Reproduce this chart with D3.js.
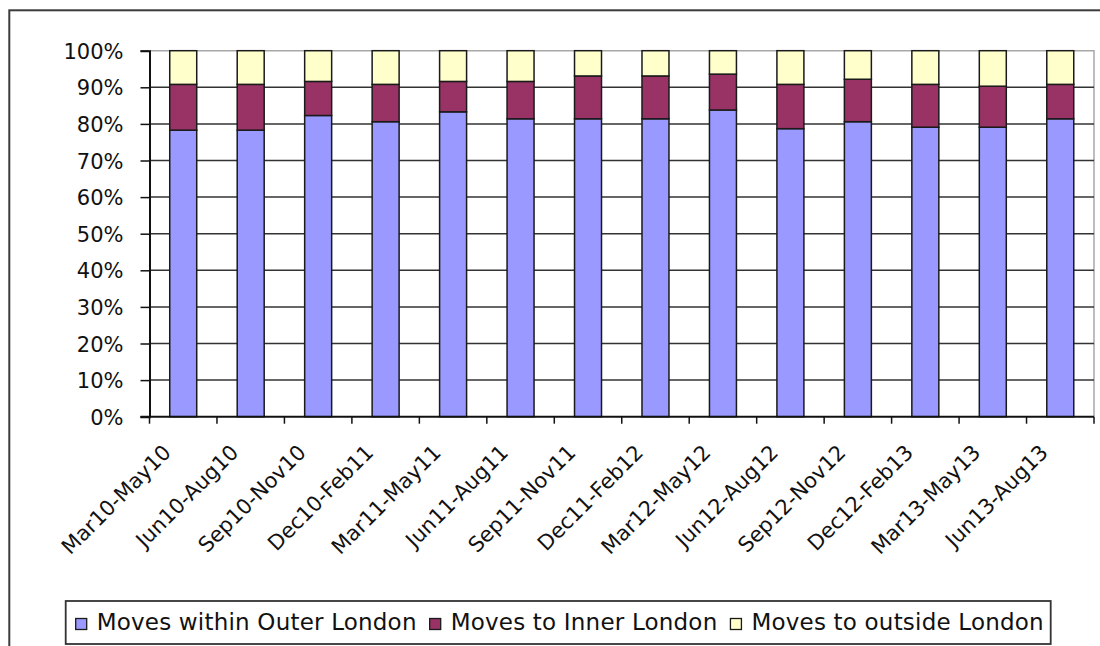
<!DOCTYPE html>
<html>
<head>
<meta charset="utf-8">
<script src="https://cdn.jsdelivr.net/npm/d3@7"></script>
<style>
  html, body { margin: 0; padding: 0; background: #fff; }
  svg { display: block; }
  text { font-family: "DejaVu Sans", Verdana, sans-serif; fill: #111; }
</style>
</head>
<body>
<svg id="chart" width="1100" height="646"></svg>
<script>
// Quarterly share of moves from Outer London, by destination (%)
const categories = [
  "Mar10-May10", "Jun10-Aug10", "Sep10-Nov10", "Dec10-Feb11",
  "Mar11-May11", "Jun11-Aug11", "Sep11-Nov11", "Dec11-Feb12",
  "Mar12-May12", "Jun12-Aug12", "Sep12-Nov12", "Dec12-Feb13",
  "Mar13-May13", "Jun13-Aug13"
];
const withinOuter   = [78.3, 78.3, 82.3, 80.6, 83.3, 81.4, 81.4, 81.4, 83.8, 78.7, 80.6, 79.1, 79.1, 81.4];
const toInner       = [12.5, 12.5,  9.3, 10.2,  8.3, 10.2, 11.7, 11.7,  9.8, 12.1, 11.6, 11.7, 11.2,  9.4];
const toOutside     = [ 9.2,  9.2,  8.4,  9.2,  8.4,  8.4,  6.9,  6.9,  6.4,  9.2,  7.8,  9.2,  9.7,  9.2];
const seriesNames   = ["Moves within Outer London", "Moves to Inner London", "Moves to outside London"];
const seriesColors  = ["#9999FF", "#993366", "#FFFFCC"];
const yTickValues   = [0, 10, 20, 30, 40, 50, 60, 70, 80, 90, 100];

const svg = d3.select("#chart");

// Chart frame
svg.append("rect")
  .attr("x", 9.3).attr("y", 10.3)
  .attr("width", 1200).attr("height", 700)
  .attr("fill", "#fff").attr("stroke", "#3c3c3c").attr("stroke-width", 2);

const plot = { left: 149.5, right: 1094, top: 50.7, bottom: 416.7 };

const x = d3.scaleBand()
  .domain(categories)
  .range([plot.left, plot.right])
  .paddingInner(0.6)
  .paddingOuter(0.3);

const y = d3.scaleLinear()
  .domain([0, 100])
  .range([plot.bottom, plot.top]);

// Plot area border (top / right)
svg.append("path")
  .attr("d", `M${plot.left},${plot.top}H${plot.right}V${plot.bottom}`)
  .attr("fill", "none").attr("stroke", "#a8a8a8").attr("stroke-width", 1.5);

// Horizontal gridlines
svg.append("g")
  .selectAll("line")
  .data(yTickValues.filter(v => v > 0 && v < 100))
  .join("line")
  .attr("x1", plot.left).attr("x2", plot.right)
  .attr("y1", d => y(d)).attr("y2", d => y(d))
  .attr("stroke", "#333").attr("stroke-width", 1.5);

// Stacked bars
const rows = categories.map((c, i) => ({
  cat: c, v0: withinOuter[i], v1: toInner[i], v2: toOutside[i]
}));
const stack = d3.stack().keys(["v0", "v1", "v2"]);
const layers = stack(rows);

svg.append("g")
  .selectAll("g")
  .data(layers)
  .join("g")
  .attr("fill", (d, i) => seriesColors[i])
  .selectAll("rect")
  .data(d => d)
  .join("rect")
  .attr("x", d => x(d.data.cat))
  .attr("width", x.bandwidth())
  .attr("y", d => y(d[1]))
  .attr("height", d => y(d[0]) - y(d[1]))
  .attr("stroke", "#1a1a1a").attr("stroke-width", 1.5);

// Y axis
const yAxis = d3.axisLeft(y)
  .tickValues(yTickValues)
  .tickFormat(d => d + "%")
  .tickSize(9)
  .tickPadding(17);
const gy = svg.append("g")
  .attr("transform", `translate(${plot.left},0)`)
  .call(yAxis);
gy.select(".domain").attr("stroke", "#111").attr("stroke-width", 2);
gy.selectAll(".tick line").attr("stroke", "#111").attr("stroke-width", 1.5);
gy.selectAll(".tick text")
  .attr("font-family", "DejaVu Sans, Verdana, sans-serif")
  .attr("font-size", 21)
  .attr("fill", "#111")
  .attr("dy", "0.36em");

// X axis: ticks at category boundaries
const boundaries = d3.range(categories.length + 1).map(i => plot.left + i * x.step());
const gx = svg.append("g");
gx.append("line")
  .attr("x1", plot.left - 9).attr("x2", plot.right)
  .attr("y1", plot.bottom).attr("y2", plot.bottom)
  .attr("stroke", "#111").attr("stroke-width", 2);
gx.selectAll("line.tk")
  .data(boundaries)
  .join("line")
  .attr("class", "tk")
  .attr("x1", d => d).attr("x2", d => d)
  .attr("y1", plot.bottom).attr("y2", plot.bottom + 7)
  .attr("stroke", "#111").attr("stroke-width", 1.5);

// Rotated category labels
gx.selectAll("text")
  .data(categories)
  .join("text")
  .attr("transform", d => `translate(${x(d) + x.bandwidth() / 2 - 11},${plot.bottom + 37}) rotate(-45)`)
  .attr("text-anchor", "end")
  .attr("font-size", 21)
  .text(d => d);

// Legend
const legend = svg.append("g");
legend.append("rect")
  .attr("x", 65.7).attr("y", 601)
  .attr("width", 985).attr("height", 43)
  .attr("fill", "#fff").attr("stroke", "#333").attr("stroke-width", 1.8);

let lx = 75.7;
seriesNames.forEach((name, i) => {
  legend.append("rect")
    .attr("x", lx).attr("y", 618.5)
    .attr("width", 11).attr("height", 11)
    .attr("fill", seriesColors[i])
    .attr("stroke", "#1a1a1a").attr("stroke-width", 1.3);
  const t = legend.append("text")
    .attr("x", lx + 21).attr("y", 629.5)
    .attr("font-size", 23)
    .attr("letter-spacing", 0.2)
    .text(name);
  lx += 21 + t.node().getComputedTextLength() + 13;
});
</script>
</body>
</html>
